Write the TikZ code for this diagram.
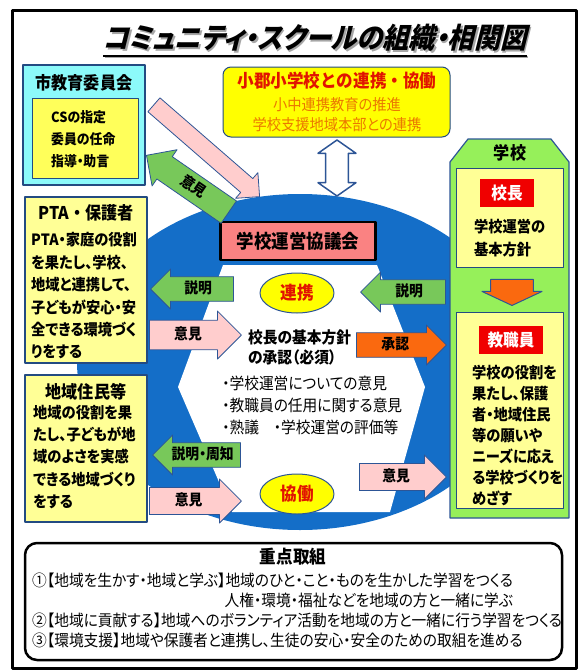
\documentclass[tikz,border=0pt]{standalone}
\usepackage{fontspec}
\setmainfont{Noto Sans CJK JP}[RawFeature={+palt},FakeStretch=0.92]
\newfontfamily\titlefont{Noto Sans CJK JP}[RawFeature={+palt},FakeStretch=0.92,FakeSlant=0.25]
\usetikzlibrary{shapes.arrows,shapes.geometric}

\newcommand\fsz[2]{\fontsize{#1}{#2}\selectfont}

\definecolor{csBlue}{RGB}{20,110,200}
\definecolor{panelBlue}{RGB}{35,75,130}
\definecolor{arrowEdge}{RGB}{45,85,150}
\definecolor{boardCyan}{RGB}{140,250,250}
\definecolor{noteYellow}{RGB}{255,255,150}
\definecolor{csYellow}{RGB}{255,255,90}
\definecolor{linkYellow}{RGB}{255,255,0}
\definecolor{schoolGreen}{RGB}{150,240,90}
\definecolor{arrowGreen}{RGB}{120,200,90}
\definecolor{arrowPink}{RGB}{255,205,205}
\definecolor{arrowOrange}{RGB}{250,105,15}
\definecolor{councilPink}{RGB}{250,130,130}
\definecolor{tagRed}{RGB}{240,0,0}
\definecolor{linkRed}{RGB}{225,20,0}
\definecolor{linkOrange}{RGB}{235,120,0}

\tikzset{
    every picture/.style={line join=round},
    % Frame round the whole sheet
    sheet frame/.style={draw=black, line width=3pt},
    % Title lettering
    title text/.style={font=\titlefont\fsz{28.5}{30}\bfseries, inner sep=0pt},
    % Panels of the partners
    partner box/.style={draw=panelBlue, line width=2.5pt},
    inner box/.style={draw=panelBlue, line width=1pt},
    % Headings and body text in the panels
    box title/.style={font=\fsz{17.5}{20}\bfseries, inner sep=0pt},
    box text/.style={font=\fsz{15.5}{22.4}\bfseries, align=left, anchor=west, inner sep=0pt},
    % Red name tags of the school
    name tag/.style={fill=tagRed, text=white, font=\fsz{17}{20}\bfseries,
        minimum height=28pt, inner sep=0pt},
    % Yellow ovals of the council
    link oval/.style={ellipse, draw=arrowEdge, line width=1pt, fill=linkYellow,
        text=linkRed, font=\fsz{18}{20}\bfseries, minimum width=74pt,
        minimum height=40pt, inner sep=0pt},
    % Block arrows with a word in them
    block arrow/.style={single arrow, draw=arrowEdge, line width=0.8pt,
        inner xsep=0pt, inner ysep=4pt, text height=11pt, text depth=3pt,
        single arrow tip angle=90, font=\fsz{15}{15}\bfseries},
    to left/.style={shape border rotate=180},
    talk arrow/.style={block arrow, fill=arrowGreen},
    voice arrow/.style={block arrow, fill=arrowPink},
    % Lines of the priority list
    focus line/.style={font=\fsz{16}{20}, anchor=west, inner sep=0pt}
}

\begin{document}
\begin{tikzpicture}[x=1pt,y=-1pt]

% Canvas and frame
\path[use as bounding box] (0,0) rectangle (580,670);
\draw[sheet frame] (12,10) rectangle (576,668);

% Title with shadow and underline
\node[title text, text=black!35] (titleShade) at (316.5,39.5) {コミュニティ・スクールの組織・相関図};
\node[title text] (title) at (315,38) {コミュニティ・スクールの組織・相関図};
\draw[black!35, line width=1.8pt] ([xshift=1.5pt,yshift=-5.5pt]title.south west) -- ([xshift=1.5pt,yshift=-5.5pt]title.south east);
\draw[line width=1.8pt] ([yshift=-4pt]title.south west) -- ([yshift=-4pt]title.south east);

% Council: blue oval with the white field
\fill[csBlue] (300,362) ellipse [x radius=223, y radius=168];
\fill[white] (223,265) -- (377,265) -- (425,387) -- (390,512) -- (232,512) -- (178,387) -- cycle;

% Board of education
\draw[partner box, fill=boardCyan] (23,65) rectangle (145,185);
\node[box title] (board) at (84,83) {市教育委員会};
\draw[inner box, fill=csYellow] (32,98) rectangle (138,178);
\node[box text, font=\fsz{14}{22}\bfseries] (boardText) at (51,139) {CSの指定\\委員の任命\\指導・助言};

% PTA and guardians
\draw[partner box, fill=noteYellow] (25,197) rectangle (147,363);
\node[box title] (pta) at (86,213) {\addfontfeatures{RawFeature={-palt}}PTA・保護者};
\node[box text] (ptaText) at (31,296) {PTA・家庭の役割\\を果たし、学校、\\地域と連携して、\\子どもが安心・安\\全できる環境づく\\りをする};

% Local residents
\draw[partner box, fill=noteYellow] (25,375) rectangle (147,522);
\node[box title] (residents) at (86,392) {地域住民等};
\node[box text] (residentsText) at (33,457) {地域の役割を果\\たし、子どもが地\\域のよさを実感\\できる地域づくり\\をする};

% Partner school
\draw[inner box, fill=linkYellow, rounded corners=8pt] (223,67) rectangle (450,137);
\node[font=\fsz{18}{20}\bfseries\addfontfeatures{RawFeature={-palt}}, text=linkRed, inner sep=0pt] (partner) at (337,81) {小郡小学校との連携・協働};
\node[font=\fsz{15.5}{20}, text=linkOrange, align=center, inner sep=0pt] (partnerText) at (337,115) {小中連携教育の推進\\学校支援地域本部との連携};

% Two-way arrow to the council
\node[double arrow, draw=arrowEdge, fill=white, line width=1.5pt, rotate=90,
    minimum height=56pt, minimum width=38pt, inner sep=0pt, inner ysep=10pt,
    double arrow tip angle=110] (twoWay) at (337,168) {};

% Council name, ovals and its tasks
\node[draw=black, line width=2.5pt, fill=councilPink, font=\fsz{19}{20}\bfseries,
    minimum width=155pt, minimum height=38pt, inner sep=0pt] (council) at (298,241) {学校運営協議会};
\node[link oval] (coop) at (297,293) {連携};
\node[link oval] (collab) at (297,494) {協働};
\node[font=\fsz{16}{20}\bfseries, align=left, anchor=west, inner sep=0pt] (approval) at (248,347) {校長の基本方針\\の承認（必須）};
\node[font=\fsz{16}{22}, align=left, anchor=west, inner sep=0pt] (topics) at (222,405) {・学校運営についての意見\\・教職員の任用に関する意見\\・熟議　・学校運営の評価等};

% School
\draw[draw=arrowEdge, line width=1.2pt, fill=schoolGreen] (450,162) -- (468,139) -- (551,139) -- (569,162) -- (569,518) -- (450,518) -- cycle;
\node[box title] (school) at (510,153) {学校};
\draw[inner box, fill=noteYellow] (456,168) rectangle (563,267);
\node[name tag, minimum width=54pt] (head) at (507,193) {校長};
\node[box text] (headText) at (474,238) {学校運営の\\基本方針};
\node[single arrow, fill=arrowOrange, draw=arrowEdge, line width=1pt, rotate=-90,
    inner sep=0pt, inner ysep=17pt, minimum height=26pt, minimum width=60pt,
    single arrow tip angle=130, anchor=tip] (policyDown) at (512,306) {};
\draw[inner box, fill=noteYellow] (456,312) rectangle (563,508);
\node[name tag, minimum width=64pt] (staff) at (511,340) {教職員};
\node[box text, font=\fsz{15.5}{21}\bfseries] (staffText) at (472,435) {学校の役割を\\果たし、保護\\者・地域住民\\等の願いや\\ニーズに応え\\る学校づくりを\\めざす};

% Arrows on the left
\node[talk arrow, to left, minimum height=83pt, minimum width=40pt, anchor=tip] (explainPta) at (150,289) {説明};
\node[voice arrow, minimum height=92pt, minimum width=48pt, anchor=tip] (voicePta) at (242,335) {意見};
\node[talk arrow, to left, minimum height=88pt, minimum width=40pt, anchor=tip] (explainResidents) at (152,455) {説明・周知};
\node[voice arrow, minimum height=92pt, minimum width=44pt, anchor=tip] (voiceResidents) at (242,501) {意見};

% Arrows on the right
\node[talk arrow, to left, minimum height=85pt, minimum width=40pt, anchor=tip] (explainSchool) at (360,292) {説明};
\node[block arrow, fill=arrowOrange, minimum height=90pt, minimum width=40pt, anchor=tip] (approve) at (447,345) {承認};
\node[voice arrow, minimum height=87pt, minimum width=44pt, anchor=tip] (voiceSchool) at (447,477) {意見};

% Arrows to and from the board
\node[voice arrow, rotate=-41, text height=0pt, text depth=0pt, inner ysep=8pt,
    minimum height=140pt, minimum width=34pt, anchor=tip] (voiceBoard) at (260,197) {};
\node[talk arrow, to left, rotate=-34.6, minimum height=100pt, minimum width=44pt, anchor=tip] (opinionBoard) at (146,155) {意見};

% Priorities
\draw[line width=2.5pt, rounded corners=12pt] (25,543) rectangle (562,660);
\coordinate (rowTwo) at (0,600);
\node[font=\fsz{18}{20}\bfseries, inner sep=0pt] (focus) at (293,557) {重点取組};
\node[focus line] (focusOne) at (32,580) {①【地域を生かす・地域と学ぶ】地域のひと・こと・ものを生かした学習をつくる};
\node[focus line, anchor=east] (focusOneB) at (focusOne.east |- rowTwo) {人権・環境・福祉などを地域の方と一緒に学ぶ};
\node[focus line] (focusTwo) at (32,620) {②【地域に貢献する】地域へのボランティア活動を地域の方と一緒に行う学習をつくる};
\node[focus line] (focusThree) at (32,640) {③【環境支援】地域や保護者と連携し、生徒の安心・安全のための取組を進める};

\end{tikzpicture}
\end{document}
